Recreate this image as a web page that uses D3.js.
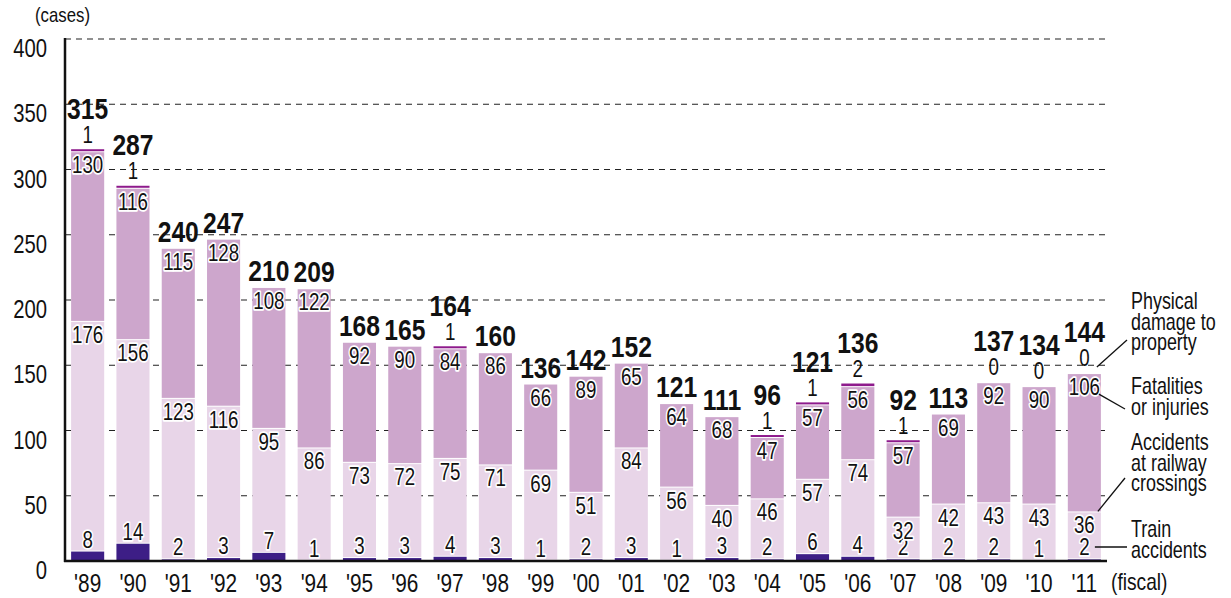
<!DOCTYPE html>
<html>
<head>
<meta charset="utf-8">
<script src="https://cdn.jsdelivr.net/npm/d3@7.9.0/dist/d3.min.js"></script>
<style>
  body { margin: 0; background: #fff; }
  svg text { font-family: 'Liberation Sans', Arial, sans-serif; fill: #111; }
</style>
</head>
<body>
<svg id="chart" width="1231" height="598"></svg>
<script>
// === Data ===
const years = ["'89", "'90", "'91", "'92", "'93", "'94", "'95", "'96", "'97", "'98", "'99", "'00",
  "'01", "'02", "'03", "'04", "'05", "'06", "'07", "'08", "'09", "'10", "'11"];
const trainAccidents = [8, 14, 2, 3, 7, 1, 3, 3, 4, 3, 1, 2, 3, 1, 3, 2, 6, 4, 2, 2, 2, 1, 2];
const crossingAccidents = [176, 156, 123, 116, 95, 86, 73, 72, 75, 71, 69, 51, 84, 56, 40, 46, 57, 74, 32, 42, 43, 43, 36];
const fatalitiesInjuries = [130, 116, 115, 128, 108, 122, 92, 90, 84, 86, 66, 89, 65, 64, 68, 47, 57, 56, 57, 69, 92, 90, 106];
// null = not reported on the chart (counted as 0)
const propertyDamage = [1, 1, null, null, null, null, null, null, 1, null, null, null, null, null, null, 1, 1, 2, 1, null, 0, 0, 0];
const totals = [315, 287, 240, 247, 210, 209, 168, 165, 164, 160, 136, 142, 152, 121, 111, 96, 121, 136, 92, 113, 137, 134, 144];
const yTicks = [0, 50, 100, 150, 200, 250, 300, 350, 400];

const keys = ['train', 'crossing', 'fatal', 'property'];
const colors = { train: '#3d1e86', crossing: '#e8d5e8', fatal: '#cda6cc', property: '#8e1a8c' };

const rows = years.map((yr, i) => ({
  year: yr,
  train: trainAccidents[i],
  crossing: crossingAccidents[i],
  fatal: fatalitiesInjuries[i],
  property: propertyDamage[i] ?? 0,
  propLabel: propertyDamage[i],
  total: totals[i]
}));

// narrow the text like the original condensed face
const at = (px, py, sx = 0.78) => `translate(${px},${py}) scale(${sx},1)`;

const svg = d3.select('#chart');

const x = d3.scaleBand().domain(years).range([65, 1107]).paddingInner(0.27).paddingOuter(0.135);
const y = d3.scaleLinear().domain([0, 400]).range([561, 39]);

// === Grid ===
svg.append('g')
  .selectAll('line')
  .data(yTicks.filter(d => d > 0))
  .join('line')
  .attr('x1', 65).attr('x2', 1107)
  .attr('y1', d => y(d)).attr('y2', d => y(d))
  .attr('stroke', '#222').attr('stroke-width', 1.2)
  .attr('stroke-dasharray', '6,5');

// y tick labels
svg.append('g')
  .selectAll('text')
  .data(yTicks)
  .join('text')
  .attr('transform', d => at(47, y(d) + 18))
  .attr('text-anchor', 'end')
  .attr('font-size', 26)
  .text(d => d);

svg.append('text').attr('transform', at(35, 22, 0.84)).attr('font-size', 20).text('(cases)');

// === Bars ===
const stacked = d3.stack().keys(keys)(rows);

const layer = svg.append('g')
  .selectAll('g')
  .data(stacked)
  .join('g')
  .attr('fill', d => colors[d.key]);

layer.selectAll('rect')
  .data(d => d.map(p => ({ p, key: d.key })))
  .join('rect')
  .attr('x', d => x(d.p.data.year))
  .attr('width', x.bandwidth())
  .attr('y', d => {
    const top = y(d.p[1]);
    return d.key === 'property' ? Math.min(top, y(d.p[0]) - 2) : top + 1;
  })
  .attr('height', d => {
    if (d.p[1] - d.p[0] === 0) return 0;
    const h = y(d.p[0]) - y(d.p[1]);
    return d.key === 'property' ? Math.max(h, 2) : Math.max(h - 1, 0);
  });

// axes lines
svg.append('line').attr('x1', 65).attr('x2', 65).attr('y1', 38).attr('y2', 562)
  .attr('stroke', '#111').attr('stroke-width', 2.5);
svg.append('line').attr('x1', 64).attr('x2', 1107).attr('y1', 561).attr('y2', 561)
  .attr('stroke', '#111').attr('stroke-width', 2.5);

// x labels
svg.append('g')
  .selectAll('text')
  .data(years)
  .join('text')
  .attr('transform', d => at(x(d) + x.bandwidth() / 2, 592, 0.8))
  .attr('text-anchor', 'middle')
  .attr('font-size', 26)
  .text(d => d);
svg.append('text').attr('transform', at(1111, 590, 0.8)).attr('font-size', 24).text('(fiscal)');

// === Value labels ===
const cx = d => x(d.year) + x.bandwidth() / 2;
const halo = sel => sel
  .attr('stroke', '#fff').attr('stroke-width', 3.5).attr('stroke-linejoin', 'round')
  .attr('paint-order', 'stroke');

const labels = svg.append('g').attr('text-anchor', 'middle').attr('font-size', 24);

// train accidents: just above the train segment
labels.selectAll('text.train')
  .data(rows)
  .join('text').attr('class', 'train')
  .attr('transform', d => at(cx(d), y(d.train) - 3))
  .call(halo)
  .text(d => d.train);

// crossings: top of the crossing segment
labels.selectAll('text.crossing')
  .data(rows)
  .join('text').attr('class', 'crossing')
  .attr('transform', d => at(cx(d), y(d.train + d.crossing) + 22))
  .call(halo)
  .text(d => d.crossing);

// fatalities: top of the fatal segment
labels.selectAll('text.fatal')
  .data(rows)
  .join('text').attr('class', 'fatal')
  .attr('transform', d => at(cx(d), y(d.train + d.crossing + d.fatal) + 22))
  .call(halo)
  .text(d => d.fatal);

// property damage: above the bar
labels.selectAll('text.property')
  .data(rows.filter(d => d.propLabel !== null))
  .join('text').attr('class', 'property')
  .attr('transform', d => at(cx(d), y(d.total) - 7))
  .text(d => d.propLabel);

// totals
labels.selectAll('text.total')
  .data(rows)
  .join('text').attr('class', 'total')
  .attr('transform', d => at(cx(d), y(d.total) - (d.propLabel !== null ? 31 : 6), 0.85))
  .attr('font-size', 29)
  .attr('font-weight', 'bold')
  .text(d => d.total);

// === Legend (series names with leader lines) ===
const last = rows[rows.length - 1];
const lx = x(last.year) + x.bandwidth();
const legend = svg.append('g').attr('font-size', 23);
const legendItems = [
  { lines: ['Physical', 'damage to', 'property'], ty: 309, from: [lx - 4, y(last.total) - 6], to: [1127, 340] },
  { lines: ['Fatalities', 'or injuries'], ty: 394, from: [lx - 2, y(last.total) + 21], to: [1125, 409] },
  { lines: ['Accidents', 'at railway', 'crossings'], ty: 450, from: [lx - 3, y(last.train + last.crossing)], to: [1125, 478] },
  { lines: ['Train', 'accidents'], ty: 537, from: [lx - 6, 547], to: [1127, 547] }
];
legendItems.forEach(item => {
  legend.append('line')
    .attr('x1', item.from[0]).attr('y1', item.from[1])
    .attr('x2', item.to[0]).attr('y2', item.to[1])
    .attr('stroke', '#111').attr('stroke-width', 1.3);
  const t = legend.append('text').attr('transform', at(1131, item.ty));
  item.lines.forEach((ln, i) => {
    t.append('tspan').attr('x', 0).attr('dy', i === 0 ? 0 : 20.5).text(ln);
  });
});
</script>
</body>
</html>
